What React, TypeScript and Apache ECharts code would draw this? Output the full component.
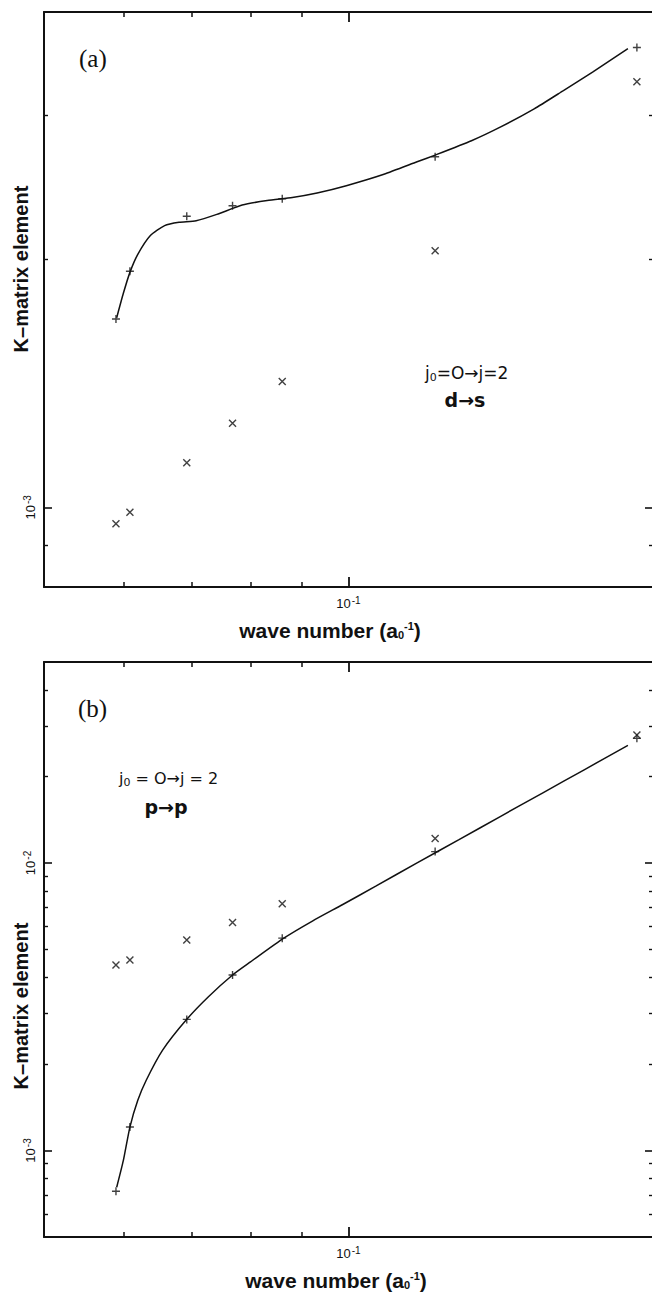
import React, { useEffect, useRef } from "react";
import * as echarts from "echarts";

// ---------- data ----------
// wave numbers of the computed points (a0^-1)
const waveNumbers = [0.0589, 0.0608, 0.0692, 0.0768, 0.086, 0.1218, 0.1928];

// panel (a): d -> s
const plusA = [1.694e-3, 1.936e-3, 2.258e-3, 2.326e-3, 2.372e-3, 2.668e-3, 3.622e-3];
const crossA = [0.955e-3, 0.986e-3, 1.133e-3, 1.265e-3, 1.422e-3, 2.051e-3, 3.291e-3];
const curveAX = [0.059, 0.0599, 0.0608, 0.0619, 0.0637, 0.0658, 0.068, 0.0707, 0.0741, 0.0785, 0.0831, 0.088, 0.0931, 0.0995, 0.1084, 0.1169, 0.1218, 0.1323, 0.1414, 0.1526, 0.1631, 0.1743, 0.1889];
const curveAY = [1.7e-3, 1.82e-3, 1.93e-3, 2.03e-3, 2.14e-3, 2.2e-3, 2.22e-3, 2.23e-3, 2.27e-3, 2.33e-3, 2.36e-3, 2.38e-3, 2.41e-3, 2.46e-3, 2.54e-3, 2.63e-3, 2.68e-3, 2.79e-3, 2.9e-3, 3.05e-3, 3.21e-3, 3.38e-3, 3.61e-3];

// panel (b): p -> p
const plusB = [0.721e-3, 1.206e-3, 2.857e-3, 4.077e-3, 5.475e-3, 1.095e-2, 2.713e-2];
const crossB = [4.418e-3, 4.6e-3, 5.4e-3, 6.21e-3, 7.21e-3, 1.216e-2, 2.787e-2];
const curveBX = [0.059, 0.0599, 0.0608, 0.0619, 0.0631, 0.0655, 0.0692, 0.0727, 0.0768, 0.08, 0.0863, 0.0922, 0.0986, 0.1064, 0.1169, 0.1286, 0.1414, 0.1555, 0.171, 0.1889];
const curveBY = [0.745e-3, 0.923e-3, 1.206e-3, 1.494e-3, 1.755e-3, 2.233e-3, 2.858e-3, 3.425e-3, 4.077e-3, 4.527e-3, 5.476e-3, 6.293e-3, 7.155e-3, 8.3e-3, 1.001e-2, 1.205e-2, 1.453e-2, 1.75e-2, 2.109e-2, 2.566e-2];

// axes
const xRange = [0.05, 0.2];
const xMinorTicks = [0.06, 0.07, 0.08, 0.09];
const xMajorTicks = [0.1];
const yRangeA = [8e-4, 4e-3];
const yMinorTicksA = [9e-4, 2e-3, 3e-3];
const yMajorTicksA = [1e-3];
const yRangeB = [5e-4, 5e-2];
const yMinorTicksB = [6e-4, 7e-4, 8e-4, 9e-4, 2e-3, 3e-3, 4e-3, 5e-3, 6e-3, 7e-3, 8e-3, 9e-3, 2e-2, 3e-2, 4e-2];
const yMajorTicksB = [1e-3, 1e-2];

const INK = "#111";
const tickFont = "Liberation Sans";

const supRich = {
  base: { fontSize: 13, fontFamily: tickFont, color: INK },
  sup: { fontSize: 10, fontFamily: tickFont, color: INK, padding: [0, 0, 7, 1] },
};

function expLabel(v: number) {
  const e = Math.round(Math.log10(v));
  return "{base|10}{sup|" + (e < 0 ? "-" + -e : String(e)) + "}";
}

function xAxesFor(gridIndex: number) {
  const base = { type: "log", logBase: 10, min: xRange[0], max: xRange[1], gridIndex, splitLine: { show: false } };
  const line = { show: true, lineStyle: { color: INK, width: 2 } };
  return [
    {
      ...base,
      position: "bottom",
      axisLine: line,
      axisTick: { show: true, inside: true, length: 5, customValues: xMinorTicks, lineStyle: { color: INK, width: 1.5 } },
      axisLabel: { show: true, fontSize: 13, customValues: xMajorTicks, margin: 8, formatter: (v: number) => expLabel(v), rich: supRich },
    },
    {
      ...base,
      position: "bottom",
      axisLine: { show: false },
      axisTick: { show: true, inside: true, length: 10, customValues: xMajorTicks, lineStyle: { color: INK, width: 1.8 } },
      axisLabel: { show: false },
    },
    {
      ...base,
      position: "top",
      axisLine: line,
      axisTick: { show: true, inside: true, length: 5, customValues: xMinorTicks, lineStyle: { color: INK, width: 1.5 } },
      axisLabel: { show: false },
    },
    {
      ...base,
      position: "top",
      axisLine: { show: false },
      axisTick: { show: true, inside: true, length: 10, customValues: xMajorTicks, lineStyle: { color: INK, width: 1.8 } },
      axisLabel: { show: false },
    },
  ];
}

function yAxesFor(gridIndex: number, range: number[], minor: number[], major: number[]) {
  const base = { type: "log", logBase: 10, min: range[0], max: range[1], gridIndex, splitLine: { show: false } };
  const line = { show: true, lineStyle: { color: INK, width: 2 } };
  return [
    {
      ...base,
      position: "left",
      axisLine: line,
      axisTick: { show: true, inside: true, length: 4, customValues: minor, lineStyle: { color: INK, width: 1.4 } },
      axisLabel: { show: true, fontSize: 13, customValues: major, rotate: 90, margin: 5, formatter: (v: number) => expLabel(v), rich: supRich },
    },
    {
      ...base,
      position: "left",
      axisLine: { show: false },
      axisTick: { show: true, inside: true, length: 8, customValues: major, lineStyle: { color: INK, width: 1.6 } },
      axisLabel: { show: false },
    },
    {
      ...base,
      position: "right",
      axisLine: line,
      axisTick: { show: true, inside: true, length: 4, customValues: minor, lineStyle: { color: INK, width: 1.4 } },
      axisLabel: { show: false },
    },
    {
      ...base,
      position: "right",
      axisLine: { show: false },
      axisTick: { show: true, inside: true, length: 8, customValues: major, lineStyle: { color: INK, width: 1.6 } },
      axisLabel: { show: false },
    },
  ];
}

const PLUS = "path://M0,-1L0,1M-1,0L1,0";
const CROSS = "path://M-1,-1L1,1M-1,1L1,-1";

function seriesFor(axisIndex: number, cx: number[], cy: number[], plus: number[], cross: number[]) {
  return [
    {
      type: "line", xAxisIndex: axisIndex, yAxisIndex: axisIndex,
      data: cx.map((x, i) => [x, cy[i]]),
      showSymbol: false, smooth: 0.2,
      lineStyle: { color: INK, width: 1.5 }, silent: true,
    },
    {
      type: "scatter", xAxisIndex: axisIndex, yAxisIndex: axisIndex,
      data: waveNumbers.map((x, i) => [x, plus[i]]),
      symbol: PLUS, symbolSize: 8,
      itemStyle: { color: INK, borderColor: INK, borderWidth: 1.4 }, silent: true,
    },
    {
      type: "scatter", xAxisIndex: axisIndex, yAxisIndex: axisIndex,
      data: waveNumbers.map((x, i) => [x, cross[i]]),
      symbol: CROSS, symbolSize: 7,
      itemStyle: { color: INK, borderColor: INK, borderWidth: 1.4 }, silent: true,
    },
  ];
}

function axisNameTexts(yCenterName: number, xNameY: number, xNameX: number) {
  return [
    {
      type: "text", x: 21, y: yCenterName, rotation: Math.PI / 2,
      style: { text: "K–matrix element", font: "bold 20px 'Liberation Sans'", fill: INK, align: "center", verticalAlign: "middle" },
    },
    {
      type: "text", x: xNameX, y: xNameY,
      style: {
        text: "{b|wave number (a}{sub|0}{sup|-1}{b|)}",
        align: "center", verticalAlign: "middle",
        rich: {
          b: { font: "bold 21px 'Liberation Sans'", fill: INK, color: INK },
          sub: { font: "bold 11px 'Liberation Sans'", fill: INK, color: INK, padding: [9, 0, 0, 0] },
          sup: { font: "bold 11px 'Liberation Sans'", fill: INK, color: INK, padding: [0, 0, 9, 0] },
        },
      },
    },
  ];
}

const noteRich = (size: number) => ({
  n: { font: size + "px 'DejaVu Sans'", fill: INK, color: INK },
  s: { font: "11px 'DejaVu Sans'", fill: INK, color: INK, padding: [8, 0, 0, 0] },
});

const option = {
  animation: false,
  backgroundColor: "#fff",
  grid: [
    { left: 44, top: 12, width: 609, height: 575, outerBoundsMode: "none", containLabel: false },
    { left: 44, top: 662, width: 609, height: 575, outerBoundsMode: "none", containLabel: false },
  ],
  xAxis: [...xAxesFor(0), ...xAxesFor(1)],
  yAxis: [...yAxesFor(0, yRangeA, yMinorTicksA, yMajorTicksA), ...yAxesFor(1, yRangeB, yMinorTicksB, yMajorTicksB)],
  series: [...seriesFor(0, curveAX, curveAY, plusA, crossA), ...seriesFor(4, curveBX, curveBY, plusB, crossB)],
  graphic: [
    ...axisNameTexts(269, 630, 330),
    ...axisNameTexts(1006, 1280, 336),
    { type: "text", x: 79, y: 58, style: { text: "(a)", font: "25px 'Liberation Serif'", fill: INK, verticalAlign: "middle" } },
    { type: "text", x: 78, y: 708, style: { text: "(b)", font: "25px 'Liberation Serif'", fill: INK, verticalAlign: "middle" } },
    {
      type: "text", x: 425, y: 373,
      style: { text: "{n|j}{s|0}{n|=O→j=2}", verticalAlign: "middle", rich: noteRich(17) },
    },
    { type: "text", x: 465, y: 400, style: { text: "d→s", font: "bold 19px 'DejaVu Sans'", fill: INK, align: "center", verticalAlign: "middle" } },
    {
      type: "text", x: 119, y: 778,
      style: { text: "{n|j}{s|0}{n| = O→j = 2}", verticalAlign: "middle", rich: noteRich(16) },
    },
    { type: "text", x: 166, y: 807, style: { text: "p→p", font: "bold 19px 'DejaVu Sans'", fill: INK, align: "center", verticalAlign: "middle" } },
  ],
};

export default function App() {
  const ref = useRef<HTMLDivElement>(null);
  useEffect(() => {
    if (!ref.current) return;
    const chart = echarts.init(ref.current, null, { renderer: "svg" });
    chart.setOption(option as any);
    return () => chart.dispose();
  }, []);
  return <div ref={ref} style={{ position: "absolute", left: 0, top: 0, width: 652, height: 1293, background: "#fff" }} />;
}
